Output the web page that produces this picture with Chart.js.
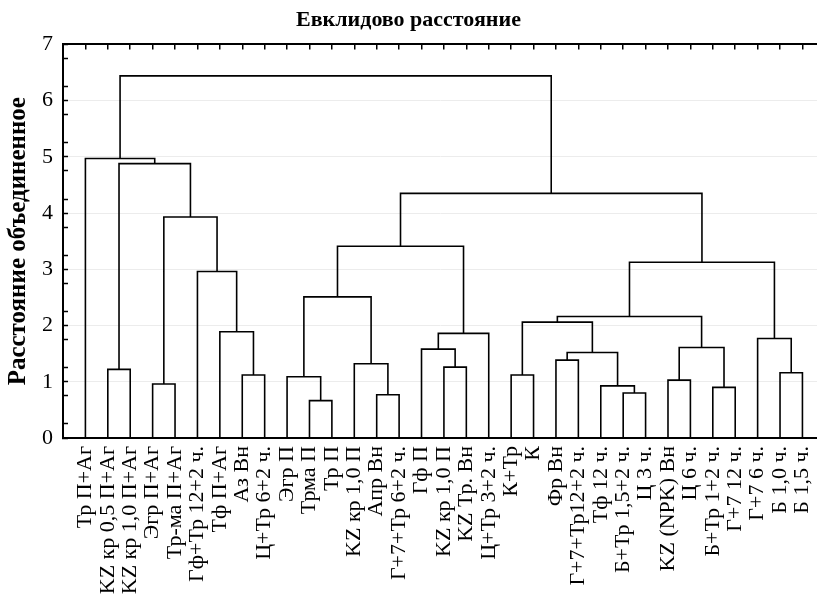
<!DOCTYPE html>
<html>
<head>
<meta charset="utf-8">
<script src="https://cdn.jsdelivr.net/npm/chart.js@4/dist/chart.umd.min.js"></script>
<style>
  body { margin: 0; background: #fff; }
  #tree { display: block; }
</style>
</head>
<body>
<canvas id="tree" width="817" height="608"></canvas>
<script>
// leaves of the dendrogram, left to right
const leafLabels = [
    'Тр П+Аг', 'KZ кр 0,5 П+Аг', 'KZ кр 1,0 П+Аг', 'Эгр П+Аг', 'Тр-ма П+Аг',
    'Гф+Тр 12+2 ч.', 'Тф П+Аг', 'Аз Вн', 'Ц+Тр 6+2 ч.', 'Эгр П', 'Трма П',
    'Тр П', 'KZ кр 1,0 П', 'Апр Вн', 'Г+7+Тр 6+2 ч.', 'Гф П', 'KZ кр 1,0 П',
    'KZ Тр. Вн', 'Ц+Тр 3+2 ч.', 'К+Тр', 'К', 'Фр Вн', 'Г+7+Тр12+2 ч.',
    'Тф 12 ч.', 'Б+Тр 1,5+2 ч.', 'Ц 3 ч.', 'KZ (NPK) Вн', 'Ц 6 ч.',
    'Б+Тр 1+2 ч.', 'Г+7 12 ч.', 'Г+7 6 ч.', 'Б 1,0 ч.', 'Б 1,5 ч.'
];

// joins: [node a, node b, distance]; leaves are 0..32, each join makes node 33, 34, ...
const links = [
    [1, 2, 1.22],    // 33
    [3, 4, 0.96],    // 34
    [7, 8, 1.12],    // 35
    [6, 35, 1.89],   // 36
    [5, 36, 2.96],   // 37
    [34, 37, 3.93],  // 38
    [33, 38, 4.88],  // 39
    [0, 39, 4.97],   // 40
    [10, 11, 0.665], // 41
    [9, 41, 1.09],   // 42
    [13, 14, 0.77],  // 43
    [12, 43, 1.32],  // 44
    [42, 44, 2.51],  // 45
    [16, 17, 1.26],  // 46
    [15, 46, 1.58],  // 47
    [47, 18, 1.86],  // 48
    [45, 48, 3.41],  // 49
    [19, 20, 1.12],  // 50
    [21, 22, 1.385], // 51
    [24, 25, 0.80],  // 52
    [23, 52, 0.927], // 53
    [51, 53, 1.52],  // 54
    [50, 54, 2.06],  // 55
    [26, 27, 1.03],  // 56
    [28, 29, 0.90],  // 57
    [56, 57, 1.61],  // 58
    [55, 58, 2.16],  // 59
    [31, 32, 1.16],  // 60
    [30, 60, 1.77],  // 61
    [59, 61, 3.125], // 62
    [49, 62, 4.35],  // 63
    [40, 63, 6.44]   // 64
];

const yMax = 7;

// every join is drawn as one bracket: up from a, across, down to b
const nodeX = leafLabels.map((_, i) => i + 1);
const nodeH = leafLabels.map(() => 0);
const brackets = links.map(([a, b, h]) => {
    const seg = [
        { x: nodeX[a], y: nodeH[a] },
        { x: nodeX[a], y: h },
        { x: nodeX[b], y: h },
        { x: nodeX[b], y: nodeH[b] }
    ];
    nodeX.push((nodeX[a] + nodeX[b]) / 2);
    nodeH.push(h);
    return {
        data: seg,
        borderColor: '#000',
        borderWidth: 1.6,
        pointRadius: 0,
        tension: 0,
        fill: false
    };
});

Chart.defaults.color = '#000';
Chart.defaults.font.family = '"Liberation Serif", "Times New Roman", serif';

const leafTicks = (axis) => {
    axis.ticks = leafLabels.map((_, i) => ({ value: i + 1 }));
};

new Chart(document.getElementById('tree'), {
    type: 'line',
    data: { datasets: brackets },
    options: {
        responsive: false,
        animation: false,
        layout: { padding: 0 },
        plugins: {
            legend: { display: false },
            tooltip: { enabled: false },
            title: {
                display: true,
                text: 'Евклидово расстояние',
                font: { size: 22, weight: 'bold' },
                padding: { top: 7, bottom: 11 }
            }
        },
        scales: {
            x: {
                type: 'linear',
                position: 'bottom',
                min: 0,
                max: 33.65,
                afterBuildTicks: leafTicks,
                afterFit: (a) => { a.height = 170; a.paddingLeft = 0; a.paddingRight = 0; },
                grid: { display: true, drawOnChartArea: false, drawTicks: false },
                border: { display: true, color: '#000', width: 2 },
                ticks: {
                    autoSkip: false,
                    minRotation: 90,
                    maxRotation: 90,
                    padding: 8,
                    font: { size: 22 },
                    callback: (v) => leafLabels[v - 1] || ''
                }
            },
            // top frame with small inward ticks at every leaf
            x2: {
                type: 'linear',
                position: 'top',
                min: 0,
                max: 33.65,
                afterBuildTicks: leafTicks,
                afterFit: (a) => { a.height = 0; a.paddingLeft = 0; a.paddingRight = 0; },
                grid: { drawOnChartArea: false, drawTicks: true, tickLength: -5, tickColor: '#000', lineWidth: 1.5 },
                border: { display: true, color: '#000', width: 2 },
                ticks: { display: false }
            },
            y: {
                min: 0,
                max: yMax,
                afterFit: (a) => { a.width = 63; },
                border: { display: true, color: '#000', width: 2 },
                grid: {
                    drawTicks: true,
                    tickLength: -5,
                    tickWidth: 1.5,
                    color: (c) => (Number.isInteger(c.tick.value) && c.tick.value > 0 && c.tick.value < yMax) ? '#ececec' : 'rgba(0,0,0,0)',
                    tickColor: (c) => (c.tick.value % 1 === 0.5) ? 'rgba(0,0,0,0)' : '#000'
                },
                ticks: {
                    autoSkip: false,
                    stepSize: 0.25,
                    padding: 15,
                    font: { size: 22 },
                    callback: (v) => Number.isInteger(v) ? v : ''
                },
                title: {
                    display: true,
                    text: 'Расстояние объединенное',
                    font: { size: 25, weight: 'bold' },
                    padding: { top: 4, bottom: 0 }
                }
            }
        }
    }
});
</script>
</body>
</html>
